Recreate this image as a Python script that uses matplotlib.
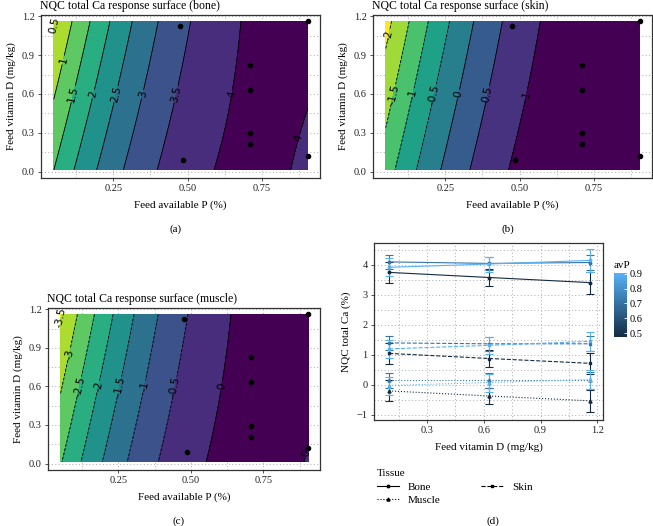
import numpy as np
import matplotlib
matplotlib.use('Agg')
import matplotlib.pyplot as plt
from matplotlib.colors import LinearSegmentedColormap, Normalize
from matplotlib.lines import Line2D
from matplotlib.path import Path
from matplotlib.cm import ScalarMappable
from matplotlib.ticker import MultipleLocator

plt.rcParams['font.family'] = ['Liberation Serif', 'DejaVu Serif']

# design points: feed available P (%) and feed vitamin D (mg/kg)
design_P = [0.475, 0.904, 0.708, 0.708, 0.708, 0.708, 0.486, 0.904]
design_D = [1.128, 1.162, 0.826, 0.633, 0.295, 0.210, 0.087, 0.120]

# response surface coefficients: b0, P, D, P^2, P*D
coef_bone = [1.108, 8.349, -0.98, -5.83, 1.33]
coef_skin = [-1.621, 8.243, -0.873, -5.55, 1.12]
coef_muscle = [-2.949, 8.669, -0.93, -6.02, 1.28]

levels_bone = [0, 0.5, 1, 1.5, 2, 2.5, 3, 3.5, 4, 4.5]
levels_skin = [-2.5, -2, -1.5, -1, -0.5, 0, 0.5, 1, 1.5]
levels_muscle = [-4, -3.5, -3, -2.5, -2, -1.5, -1, -0.5, 0, 0.5]

# panel (d): observed means and errors by avP level (rows) and vitamin D (cols)
vitD = [0.1, 0.63, 1.16]
avP = [0.475, 0.708, 0.904]
bone_mean = [[3.75, 3.58, 3.41], [4.10, 4.05, 4.08], [3.92, 4.03, 4.15]]
bone_se = [[0.35, 0.27, 0.37], [0.23, 0.22, 0.25], [0.30, 0.25, 0.38]]
skin_mean = [[1.05, 0.88, 0.72], [1.40, 1.37, 1.37], [1.20, 1.32, 1.45]]
skin_se = [[0.35, 0.28, 0.35], [0.22, 0.23, 0.25], [0.30, 0.28, 0.33]]
muscle_mean = [[-0.20, -0.37, -0.53], [0.15, 0.15, 0.15], [-0.02, 0.08, 0.18]]
muscle_se = [[0.35, 0.27, 0.36], [0.25, 0.25, 0.28], [0.30, 0.30, 0.33]]

W, H = 653, 526
fig = plt.figure(figsize=(W / 100, H / 100), dpi=100)


def box(x0, y0, x1, y1):
    return [x0 / W, 1 - y1 / H, (x1 - x0) / W, (y1 - y0) / H]


def style_axes(ax):
    for s in ax.spines.values():
        s.set_color('#333333')
        s.set_linewidth(0.9)
    ax.tick_params(length=2.5, width=0.6, color='#333333', labelsize=7.5,
                   labelcolor='#222222', pad=2)
    ax.grid(True, which='both', color='#aaaaaa', linestyle=(0, (1, 2.5)), linewidth=0.7)
    ax.set_axisbelow(True)


def surface(coef, P, D):
    b0, bp, bd, bpp, bpd = coef
    return b0 + bp * P + bd * D + bpp * P ** 2 + bpd * P * D


def label_spots(cs, d_target=0.6):
    # one label per contour piece, near D = 0.6 unless that sits on the left edge
    spots = []
    for path in cs.get_paths():
        verts, codes = path.vertices, path.codes
        if len(verts) == 0:
            continue
        starts = [0] if codes is None else list(np.flatnonzero(codes == Path.MOVETO))
        for seg in np.split(verts, starts[1:]):
            if len(seg) < 2:
                continue
            d = seg[:, 1]
            i = len(seg) // 2
            if d.min() <= d_target <= d.max():
                j = np.argmin(np.abs(d - d_target))
                if seg[j, 0] > 0.075:
                    i = j
                else:
                    mid = (d.min() + d.max()) / 2
                    i = np.argmin(np.abs(d - mid))
            spots.append(tuple(seg[i]))
    return spots


Pg, Dg = np.meshgrid(np.linspace(0.05, 0.904, 250), np.linspace(0.013, 1.162, 250))


def contour_panel(rect, coef, levels, title, caption):
    ax = fig.add_axes(box(*rect))
    style_axes(ax)
    Z = surface(coef, Pg, Dg)
    n = len(levels) - 1
    cols = plt.cm.viridis(np.linspace(0, 1, n))[::-1]
    ax.contourf(Pg, Dg, Z, levels=levels, colors=cols)
    cs = ax.contour(Pg, Dg, Z, levels=levels, colors='black', linewidths=0.6)
    ax.plot(design_P, design_D, 'o', color='black', markersize=3)
    ax.set_xlim(0.007, 0.945)
    ax.set_ylim(-0.05, 1.21)
    ax.xaxis.set_minor_locator(MultipleLocator(0.125))
    ax.yaxis.set_minor_locator(MultipleLocator(0.15))
    ax.tick_params(which='minor', length=0)
    ax.set_xticks([0.25, 0.5, 0.75])
    ax.set_xticklabels(['0.25', '0.50', '0.75'])
    ax.set_yticks([0.0, 0.3, 0.6, 0.9, 1.2])
    ax.set_yticklabels(['0.0', '0.3', '0.6', '0.9', '1.2'])
    lbls = cs.clabel(manual=label_spots(cs), fmt='%g', fontsize=7.5, inline=True,
                     inline_spacing=2)
    for t in lbls:
        t.set_family('DejaVu Sans')
    ax.set_xlabel('Feed available P (%)', fontsize=8, labelpad=5)
    ax.set_ylabel('Feed vitamin D (mg/kg)', fontsize=8, labelpad=4)
    ax.set_title(title, fontsize=8.5, loc='left', pad=4, x=-0.005)
    x0, y0, x1, y1 = rect
    fig.text(((x0 + x1) / 2 - 5) / W, 1 - (y1 + 51) / H, caption, fontsize=8,
             ha='center', va='center')
    return ax


contour_panel((41, 15, 320, 178), coef_bone, levels_bone,
              'NQC total Ca response surface (bone)', '(a)')
contour_panel((373, 15, 652, 178), coef_skin, levels_skin,
              'NQC total Ca response surface (skin)', '(b)')
contour_panel((48, 308, 320, 470), coef_muscle, levels_muscle,
              'NQC total Ca response surface (muscle)', '(c)')

# panel (d)
axd = fig.add_axes(box(374, 243, 603, 420))
style_axes(axd)
cmap = LinearSegmentedColormap.from_list('avp', ['#132B43', '#56B1F7'])
norm = Normalize(min(avP), max(avP))
tissues = [('Bone', bone_mean, bone_se, '-', 'o', 1.8),
           ('Skin', skin_mean, skin_se, '--', 's', 1.8),
           ('Muscle', muscle_mean, muscle_se, ':', '^', 2.2)]
for name, mean, se, ls, mk, ms in tissues:
    for i, p in enumerate(avP):
        c = cmap(norm(p))
        axd.errorbar(vitD, mean[i], yerr=se[i], color=c, linestyle=ls, linewidth=0.8,
                     marker=mk, markersize=ms, capsize=3, elinewidth=0.8,
                     capthick=0.8)
axd.set_xlim(0.02, 1.23)
axd.set_ylim(-1.17, 4.73)
axd.xaxis.set_minor_locator(MultipleLocator(0.15))
axd.yaxis.set_major_locator(MultipleLocator(1))
axd.yaxis.set_minor_locator(MultipleLocator(0.5))
axd.tick_params(which='minor', length=0)
axd.set_xticks([0.3, 0.6, 0.9, 1.2])
axd.set_xticklabels(['0.3', '0.6', '0.9', '1.2'])
axd.set_xlabel('Feed vitamin D (mg/kg)', fontsize=8, labelpad=5)
axd.set_ylabel('NQC total Ca (%)', fontsize=8, labelpad=4)

cax = fig.add_axes(box(614, 273, 627, 337))
cb = fig.colorbar(ScalarMappable(norm=norm, cmap=cmap), cax=cax)
cb.outline.set_visible(False)
cb.set_ticks([0.5, 0.6, 0.7, 0.8, 0.9])
cb.set_ticklabels(['0.5', '0.6', '0.7', '0.8', '0.9'])
cax.tick_params(length=2, width=0.6, color='white', labelsize=7.5, pad=2,
                direction='in')
fig.text(614 / W, 1 - 265 / H, 'avP', fontsize=8, ha='left', va='center')

handles = [Line2D([], [], color='black', linestyle=ls, marker=mk, markersize=ms,
                  linewidth=0.8) for _, _, _, ls, mk, ms in tissues]
order = [0, 2, 1]
leg = fig.legend([handles[i] for i in order], [tissues[i][0] for i in order],
                 title='Tissue', loc='upper left', bbox_to_anchor=(367 / W, 1 - 459 / H),
                 ncol=2, frameon=False, fontsize=8, title_fontsize=8,
                 handlelength=2.0, columnspacing=3.6, labelspacing=0.35,
                 alignment='left')
fig.text(493 / W, 1 - 521 / H, '(d)', fontsize=8, ha='center', va='center')

fig.savefig('out.png', dpi=100)
